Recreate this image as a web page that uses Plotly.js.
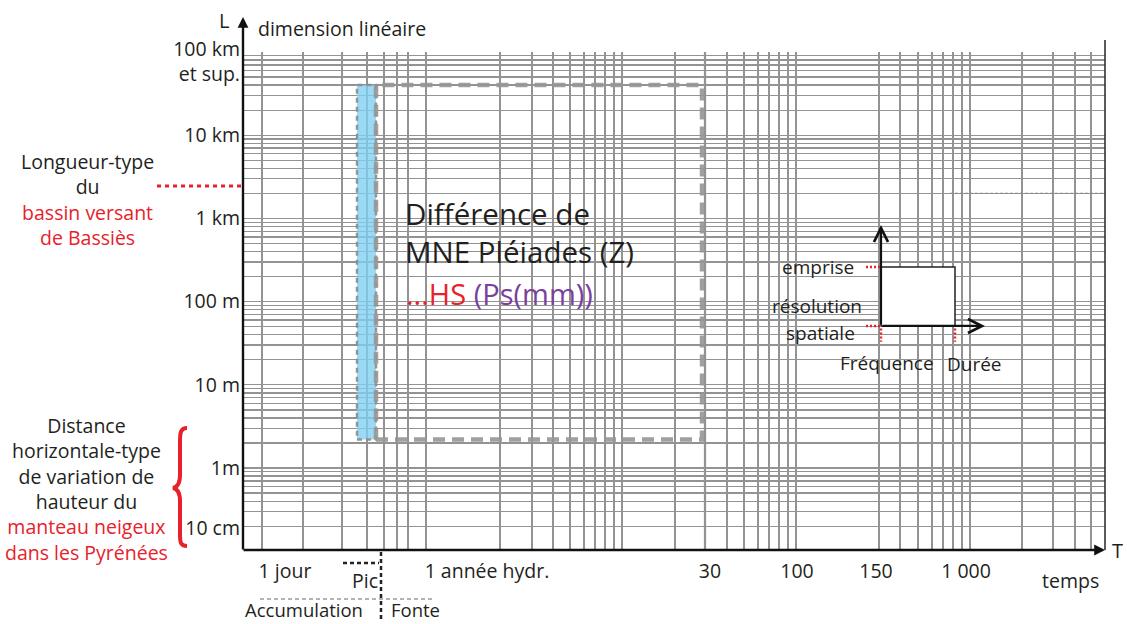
<!DOCTYPE html>
<html><head><meta charset="utf-8">
<script src="https://cdn.plot.ly/plotly-3.0.1.min.js"></script>
<style>html,body{margin:0;padding:0;background:#fff}#chart{width:1127px;height:624px}</style>
</head><body><div id="chart"></div>
<script>
// ---------------- data ----------------
// vertical axis: linear dimension L (metres), log scale
const lengthRange = [0.1035, 100000];
const lengthTickVals = [0.19, 1, 10, 100, 1000, 10000, 76000];
const lengthTickText = ['10 cm', '1m', '10 m', '100 m', '1 km', '10 km', '100 km<br>et sup.'];
// horizontal axis: schematic time axis T
const timeRange = [0, 862];
const timeTickPos = [42, 244, 467, 554, 633, 723];
const timeTickText = ['1 jour', '1 année hydr.', '30', '100', '150', '1 000'];
const timeGridPos = [19, 60, 99, 124, 141, 154, 165, 183, 257, 289, 310, 327, 341, 352, 362, 371, 379,
  432, 462, 484, 501, 515, 526, 536, 545, 553, 636, 657, 675, 689, 700, 710, 719, 727, 779, 810, 832, 848, 862];
// Pléiades DEM difference domain (dashed box)
const mneTime = [133, 459];
const mneLength = [2.2, 40000];
// snow peak band (blue)
const picTime = [114, 133];
const picLength = [2.2, 40000];
// characteristic basin length
const basinLength = 2460;
const basinLength2 = 2000;
// inset schematic
const insetTime = [638, 712];
const insetLength = [51, 261];
const insetArrowTime = 742;
const insetArrowLength = 834;
const insetTickLength = 33;

// ---------------- helpers (layout positions) ----------------
const PL = 243, PR = 1105, PT = 52, PB = 550;
const X = px => (px - PL) / (PR - PL);
const Y = py => (PB - py) / (PB - PT);
const lg = Math.log10;
const FONT = '"Open Sans", "Noto Sans", sans-serif';
const INK = '#231f20';
const RED = '#e8212b';
const PURPLE = '#7b3f9e';
const GRID = '#939393';

function pathPx(cmds) {
  return cmds.map(c => {
    const k = c[0]; const nums = c.slice(1); const out = [];
    for (let i = 0; i < nums.length; i += 2) out.push(X(nums[i]).toFixed(5) + ',' + Y(nums[i + 1]).toFixed(5));
    return k + out.join(' ');
  }).join(' ');
}

// ---------------- traces ----------------
const traces = [
  {
    x: [picTime[0], picTime[1], picTime[1], picTime[0], picTime[0]],
    y: [picLength[0], picLength[0], picLength[1], picLength[1], picLength[0]],
    mode: 'lines', fill: 'toself', fillcolor: 'rgba(125,208,242,0.78)',
    line: {color: 'rgba(140,140,140,0.9)', width: 2.5, dash: '5px,4px'},
    hoverinfo: 'skip', showlegend: false
  },
  {
    x: [mneTime[0], mneTime[1], mneTime[1], mneTime[0], mneTime[0]],
    y: [mneLength[0], mneLength[0], mneLength[1], mneLength[1], mneLength[0]],
    mode: 'lines',
    line: {color: 'rgba(150,150,150,0.9)', width: 4.5, dash: '12px,7px'},
    hoverinfo: 'skip', showlegend: false
  },
  {
    x: [insetTime[0], insetTime[1], insetTime[1], insetTime[0], insetTime[0]],
    y: [insetLength[0], insetLength[0], insetLength[1], insetLength[1], insetLength[0]],
    mode: 'lines', fill: 'toself', fillcolor: '#ffffff',
    line: {color: '#222', width: 1.5},
    hoverinfo: 'skip', showlegend: false
  },
  {x: [timeTickPos[0]], y: [lengthTickVals[1]], xaxis: 'x2', yaxis: 'y2', mode: 'markers',
   marker: {opacity: 0}, hoverinfo: 'skip', showlegend: false}
];

// ---------------- shapes ----------------
const shapes = [
  // heavy vertical line
  {type: 'line', xref: 'x', yref: 'paper', x0: 462, x1: 462, y0: 0, y1: 1, line: {color: '#7d7d7d', width: 2.2}, layer: 'below'},
  // right border
  {type: 'line', xref: 'paper', yref: 'paper', x0: 1, x1: 1, y0: 0, y1: Y(40), line: {color: '#333', width: 1.6}},
  // basin length marker (left, red)
  {type: 'line', xref: 'paper', yref: 'y', x0: X(157), x1: X(243), y0: basinLength, y1: basinLength,
   line: {color: RED, width: 3, dash: '4px,4px'}},
  // grey dotted line (right)
  {type: 'line', xref: 'x', yref: 'y', x0: 707, x1: 862, y0: basinLength2, y1: basinLength2,
   line: {color: '#8a8a8a', width: 1.2, dash: '3px,2px'}},
  // Pic markers
  {type: 'line', xref: 'x', yref: 'paper', x0: 100, x1: 136, y0: Y(563), y1: Y(563), line: {color: '#222', width: 2.5, dash: '4px,3px'}},
  {type: 'line', xref: 'x', yref: 'paper', x0: 138, x1: 138, y0: Y(552), y1: Y(622), line: {color: '#222', width: 2.5, dash: '4px,3px'}},
  {type: 'line', xref: 'x', yref: 'paper', x0: 17, x1: 189, y0: Y(599), y1: Y(599), line: {color: '#9a9a9a', width: 1.3, dash: '4px,3px'}},
  // curly brace
  {type: 'path', xref: 'paper', yref: 'paper',
   path: pathPx([['M', 187, 428], ['C', 181, 428, 180, 432, 180, 441], ['L', 180, 475], ['C', 180, 483, 178, 487, 173, 488],
                 ['C', 178, 489, 180, 493, 180, 501], ['L', 180, 535], ['C', 180, 543, 181, 546, 187, 546]]),
   line: {color: RED, width: 4}},
  // inset red ticks
  {type: 'line', xref: 'x', yref: 'y', x0: 623, x1: 637, y0: insetLength[1], y1: insetLength[1], line: {color: RED, width: 2.5, dash: '2px,2px'}},
  {type: 'line', xref: 'x', yref: 'y', x0: 623, x1: 637, y0: insetLength[0], y1: insetLength[0], line: {color: RED, width: 2.5, dash: '2px,2px'}},
  {type: 'line', xref: 'x', yref: 'y', x0: insetTime[0], x1: insetTime[0], y0: insetLength[0] * 0.93, y1: insetTickLength, line: {color: RED, width: 2.5, dash: '2px,2px'}},
  {type: 'line', xref: 'x', yref: 'y', x0: insetTime[1], x1: insetTime[1], y0: insetLength[0] * 0.93, y1: insetTickLength, line: {color: RED, width: 2.5, dash: '2px,2px'}}
];

// ---------------- annotations ----------------
function txt(text, px, py, size, xanchor, color, extra) {
  return Object.assign({text: text, xref: 'paper', yref: 'paper', x: X(px), y: Y(py), xanchor: xanchor || 'center',
    yanchor: 'middle', showarrow: false, font: {family: FONT, size: size, color: color || INK}}, extra || {});
}
const annotations = [
  // axis arrows
  {xref: 'paper', yref: 'paper', x: 0, y: Y(17), ax: 0, ay: 534, axref: 'pixel', ayref: 'pixel', text: '', showarrow: true,
   arrowhead: 2, arrowsize: 0.9, arrowwidth: 2.4, arrowcolor: '#111', standoff: 0, startstandoff: 0},
  {xref: 'paper', yref: 'paper', x: 1, y: 0, ax: -863, ay: 0, text: '', showarrow: true,
   arrowhead: 2, arrowsize: 0.9, arrowwidth: 2.4, arrowcolor: '#111', standoff: 0, startstandoff: 0},
  // inset arrows
  {xref: 'x', yref: 'y', axref: 'x', ayref: 'y', x: insetTime[0], y: lg(insetArrowLength), ax: insetTime[0], ay: lg(insetLength[0]),
   text: '', showarrow: true, arrowhead: 5, arrowsize: 1.25, arrowwidth: 2.2, arrowcolor: '#111', standoff: 0},
  {xref: 'x', yref: 'y', axref: 'x', ayref: 'y', x: insetArrowTime, y: lg(insetLength[0]), ax: insetTime[0], ay: lg(insetLength[0]),
   text: '', showarrow: true, arrowhead: 5, arrowsize: 1.25, arrowwidth: 2.2, arrowcolor: '#111', standoff: 0},
  // axis captions
  txt('L', 224, 20, 20),
  txt('dimension linéaire', 256, 28, 19.5, 'left'),
  txt('T', 1117, 550, 20),
  txt('temps', 1070, 580, 19.5),
  // left captions
  txt('Longueur-type<br>du<br><span style="color:' + RED + '">bassin versant</span><br><span style="color:' + RED + '">de Bassiès</span>', 87, 199, 19.5),
  txt('Distance<br>horizontale-type<br>de variation de<br>hauteur du<br><span style="color:' + RED + '">manteau neigeux</span><br><span style="color:' + RED + '">dans les Pyrénées</span>', 86, 489, 19.5),
  // main box text
  txt('Différence de<br>MNE Pléiades (Z)', 403, 232, 29.5, 'left', INK, {align: 'left'}),
  txt('<span style="color:' + RED + '">...HS </span><span style="color:' + PURPLE + '">(Ps(mm))</span>', 404, 293, 29, 'left'),
  // bottom captions
  txt('Pic', 365, 580, 19.5),
  txt('Accumulation', 304, 609, 18.5),
  txt('Fonte', 389, 609, 18.5, 'left'),
  // inset captions
  txt('emprise', 856, 267, 19, 'right'),
  txt('résolution', 817, 306, 19),
  txt('spatiale', 820, 333, 19),
  txt('Fréquence', 887, 363, 19),
  txt('Durée', 974, 364, 19)
];

// ---------------- layout ----------------
const tickFont = {family: FONT, size: 19.5, color: INK};
const layout = {
  width: 1127, height: 624,
  margin: {l: PL, r: 1127 - PR, t: PT, b: 624 - PB, pad: 0},
  paper_bgcolor: '#ffffff', plot_bgcolor: '#ffffff',
  showlegend: false,
  xaxis: {type: 'linear', range: timeRange, tickmode: 'array', tickvals: timeGridPos, showticklabels: false,
          ticks: '', showgrid: true, gridcolor: GRID, gridwidth: 1.3, zeroline: false, showline: false, fixedrange: true},
  xaxis2: {type: 'linear', range: timeRange, overlaying: 'x', anchor: 'y2', side: 'bottom', tickmode: 'array',
           tickvals: timeTickPos, ticktext: timeTickText, tickfont: tickFont, ticks: '', showgrid: false,
           zeroline: false, showline: false, ticklabelstandoff: 7},
  yaxis: {type: 'log', range: [lg(lengthRange[0]), lg(lengthRange[1])], dtick: 1, showticklabels: false, ticks: '',
          showgrid: true, gridcolor: GRID, gridwidth: 1.3, zeroline: false, showline: false,
          minor: {dtick: 'D1', showgrid: true, gridcolor: GRID, gridwidth: 1.3, ticks: ''}},
  yaxis2: {type: 'log', range: [lg(lengthRange[0]), lg(lengthRange[1])], overlaying: 'y', anchor: 'x', side: 'left',
           tickmode: 'array', tickvals: lengthTickVals, ticktext: lengthTickText, tickfont: tickFont, ticks: '',
           showgrid: false, zeroline: false, showline: false, ticklabelstandoff: 2},
  shapes: shapes,
  annotations: annotations
};

Plotly.newPlot('chart', traces, layout, {displayModeBar: false, staticPlot: true});
</script>
</body></html>
